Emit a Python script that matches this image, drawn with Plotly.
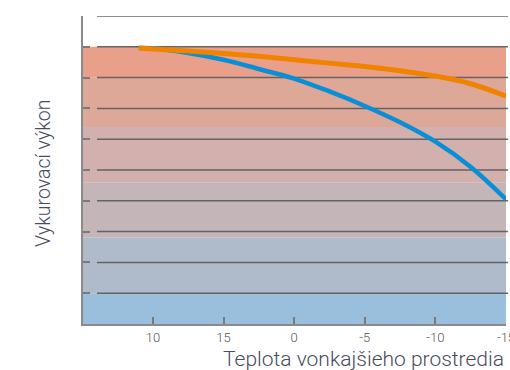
import plotly.graph_objects as go

# ---- data ----
tick_pos = [0, 1, 2, 3, 4, 5]
tick_labels = ["10", "15", "0", "-5", "-10", "-15"]

x_curve = [-0.2, 0, 0.5, 1, 1.5, 2, 2.5, 3, 3.5, 4, 4.5, 5]
orange_vals = [8.96, 8.93, 8.86, 8.78, 8.69, 8.58, 8.47, 8.36, 8.22, 8.05, 7.80, 7.40]
blue_vals = [8.96, 8.95, 8.80, 8.58, 8.28, 7.97, 7.55, 7.08, 6.55, 5.92, 5.10, 4.05]

band_edges = [0, 1, 2.8, 4.6, 6.4, 8, 9]
band_colors = ["#9ABFDC", "#AFBACB", "#C4B5B9", "#D1B0AD", "#DEA898", "#E8A08A"]

y_grid = [1, 2, 3, 4, 5, 6, 7, 8, 9, 10]

fig = go.Figure()

shapes = []
for i, c in enumerate(band_colors):
    shapes.append(dict(type="rect", xref="paper", yref="y", x0=0, x1=1,
                       y0=band_edges[i], y1=band_edges[i + 1],
                       fillcolor=c, line=dict(width=0), layer="below"))
for g in y_grid:
    shapes.append(dict(type="line", xref="paper", yref="y", x0=0.033, x1=1.005,
                       y0=g, y1=g, line=dict(color="rgba(90,90,90,0.9)", width=1.5),
                       layer="below"))

fig.add_trace(go.Scatter(x=x_curve, y=blue_vals, mode="lines",
                         line=dict(color="#0A8FD6", width=4.5, shape="spline"),
                         hoverinfo="skip", showlegend=False))
fig.add_trace(go.Scatter(x=x_curve, y=orange_vals, mode="lines",
                         line=dict(color="#F08300", width=5, shape="spline"),
                         hoverinfo="skip", showlegend=False))

fig.update_layout(
    width=510, height=370,
    margin=dict(l=83, r=4, t=16, b=46, autoexpand=False),
    paper_bgcolor="white", plot_bgcolor="white",
    shapes=shapes,
    xaxis=dict(range=[-0.99, 5], tickvals=tick_pos, ticktext=tick_labels,
               automargin=False, ticklabeloverflow="allow",
               showgrid=False, zeroline=False, showline=True,
               linecolor="#8a8a8a", linewidth=2,
               ticks="inside", ticklen=7, tickwidth=1.5, tickcolor="#7a7a7a",
               tickfont=dict(family="Roboto", size=13, color="#555555", weight=300)),
    yaxis=dict(range=[0, 10], tickvals=y_grid, showticklabels=False,
               automargin=False,
               showgrid=False, zeroline=False, showline=True,
               linecolor="#8a8a8a", linewidth=2,
               ticks="inside", ticklen=7, tickwidth=1.5, tickcolor="#7a7a7a"),
    annotations=[
        dict(text="Teplota vonkajšieho prostredia", xref="paper", yref="paper",
             x=1.0, y=-0.068, xanchor="right", yanchor="top", showarrow=False,
             font=dict(family="Roboto", size=21, color="#4a4a5e", weight=300)),
        dict(text="Vykurovací výkon", xref="paper", yref="paper",
             x=-0.095, y=0.49, xanchor="center", yanchor="middle", textangle=-90,
             showarrow=False,
             font=dict(family="Roboto", size=19.5, color="#4a4a5e", weight=300)),
    ],
)

fig.write_html("out.html", config={"displayModeBar": False},
               post_script="document.body.style.margin='0';document.body.style.overflow='hidden';")
